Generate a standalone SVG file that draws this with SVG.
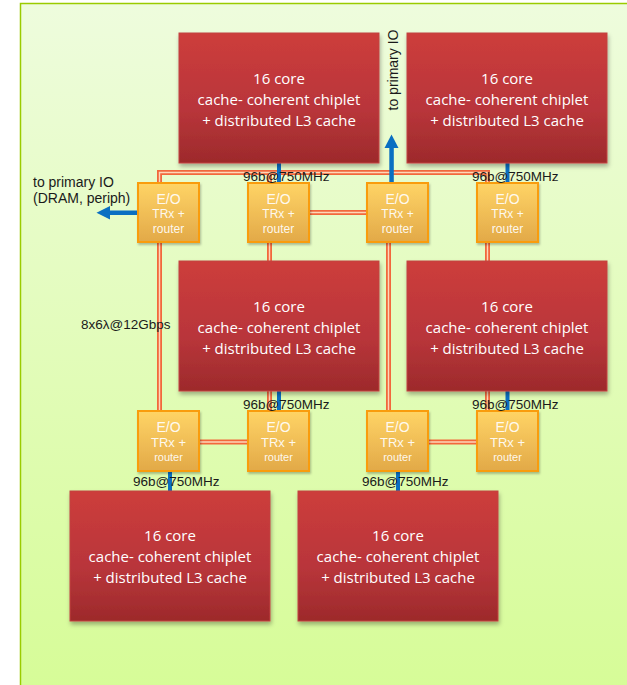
<svg xmlns="http://www.w3.org/2000/svg" width="627" height="685" viewBox="0 0 627 685">
  <defs>
    <linearGradient id="panelFill" x1="0" y1="0" x2="0" y2="1">
      <stop offset="0" stop-color="#eefcdd"/>
      <stop offset="1" stop-color="#d6fc96"/>
    </linearGradient>
    <linearGradient id="chipFill" x1="0" y1="0" x2="0" y2="1">
      <stop offset="0" stop-color="#cd3d3b"/>
      <stop offset="0.6" stop-color="#b8353a"/>
      <stop offset="1" stop-color="#9d2a2b"/>
    </linearGradient>
    <linearGradient id="routerFill" x1="0" y1="0" x2="0" y2="1">
      <stop offset="0" stop-color="#ffd466"/>
      <stop offset="1" stop-color="#e2a948"/>
    </linearGradient>
    <filter id="shadow" x="-10%" y="-10%" width="125%" height="130%">
      <feDropShadow dx="1" dy="3" stdDeviation="2" flood-color="#000" flood-opacity="0.3"/>
    </filter>
    <filter id="smallShadow" x="-10%" y="-10%" width="130%" height="130%">
      <feDropShadow dx="1" dy="2" stdDeviation="1.2" flood-color="#000" flood-opacity="0.25"/>
    </filter>
  </defs>
  <style>
    .chip { fill: url(#chipFill); stroke: #c24341; stroke-width: 1; filter: url(#shadow); }
    .chipText { font-family: "Open Sans", "Liberation Sans", sans-serif; font-size: 15px; fill: #ffffff; text-anchor: middle; }
    .router { fill: url(#routerFill); stroke: #f99c0c; stroke-width: 2; filter: url(#smallShadow); }
    .routerText { font-family: "Liberation Sans", Arial, sans-serif; fill: #ffffff; fill-opacity: 0.92; text-anchor: middle; }
    .label { font-family: "Liberation Sans", Arial, sans-serif; font-size: 13.5px; fill: #1a1a1a; }
    .io { font-size: 14px; }
    .link { fill: none; stroke: #f2683c; stroke-width: 5; }
    .linkCore { fill: none; stroke: #fdd7b8; stroke-width: 1.4; }
    .bus { stroke: #0a6fc2; stroke-width: 4; fill: none; }
  </style>

  <!-- background panel -->
  <rect x="20.5" y="3.5" width="620" height="700" fill="url(#panelFill)" stroke="#9acb00" stroke-width="1.5"/>

  <!-- optical waveguide links between routers -->
  <g id="connectors">
    <g id="optical-links">
      <path class="link" d="M159.5,441 V172.5 H487.5 V441"/>
      <path class="link" d="M269.5,172.5 V441"/>
      <path class="link" d="M278,212.5 H397"/>
      <path class="link" d="M388.5,212 V441"/>
      <path class="link" d="M168,442 H278"/>
      <path class="link" d="M397,442 H507"/>
      <path class="linkCore" d="M159.5,441 V172.5 H487.5 V441"/>
      <path class="linkCore" d="M269.5,172.5 V441"/>
      <path class="linkCore" d="M278,212.5 H397"/>
      <path class="linkCore" d="M388.5,212 V441"/>
      <path class="linkCore" d="M168,442 H278"/>
      <path class="linkCore" d="M397,442 H507"/>
    </g>
    <!-- electrical buses chiplet to router -->
    <g id="electrical-links">
      <line class="bus" x1="279" y1="160" x2="279" y2="185"/>
      <line class="bus" x1="507.5" y1="160" x2="507.5" y2="185"/>
      <line class="bus" x1="279" y1="388" x2="279" y2="413"/>
      <line class="bus" x1="507.5" y1="388" x2="507.5" y2="413"/>
      <line class="bus" x1="170" y1="469" x2="170" y2="493"/>
      <line class="bus" x1="398" y1="469" x2="398" y2="493"/>
    </g>
    <!-- primary IO arrows -->
    <g id="io-arrows" fill="#0a6fc2">
      <rect x="109" y="210.5" width="30" height="4.5"/>
      <polygon points="96.5,212.8 110,206 110,219.6"/>
      <rect x="389.3" y="147" width="4.5" height="37"/>
      <polygon points="391.5,134.5 384.5,148 398.5,148"/>
    </g>
  </g>

  <!-- chiplets -->
  <g id="chiplet-top-left">
    <rect class="chip" x="179" y="33" width="200" height="130"/>
    <text class="chipText" x="279" y="84">16 core</text>
    <text class="chipText" x="279" y="105">cache- coherent chiplet</text>
    <text class="chipText" x="279" y="126">+ distributed L3 cache</text>
  </g>
  <g id="chiplet-top-right">
    <rect class="chip" x="407" y="33" width="200" height="130"/>
    <text class="chipText" x="507" y="84">16 core</text>
    <text class="chipText" x="507" y="105">cache- coherent chiplet</text>
    <text class="chipText" x="507" y="126">+ distributed L3 cache</text>
  </g>
  <g id="chiplet-mid-left">
    <rect class="chip" x="179" y="261" width="200" height="130"/>
    <text class="chipText" x="279" y="312">16 core</text>
    <text class="chipText" x="279" y="333">cache- coherent chiplet</text>
    <text class="chipText" x="279" y="354">+ distributed L3 cache</text>
  </g>
  <g id="chiplet-mid-right">
    <rect class="chip" x="407" y="261" width="200" height="130"/>
    <text class="chipText" x="507" y="312">16 core</text>
    <text class="chipText" x="507" y="333">cache- coherent chiplet</text>
    <text class="chipText" x="507" y="354">+ distributed L3 cache</text>
  </g>
  <g id="chiplet-bottom-left">
    <rect class="chip" x="70" y="491" width="200" height="130"/>
    <text class="chipText" x="170" y="541">16 core</text>
    <text class="chipText" x="170" y="562">cache- coherent chiplet</text>
    <text class="chipText" x="170" y="583">+ distributed L3 cache</text>
  </g>
  <g id="chiplet-bottom-mid">
    <rect class="chip" x="298" y="491" width="200" height="130"/>
    <text class="chipText" x="398" y="541">16 core</text>
    <text class="chipText" x="398" y="562">cache- coherent chiplet</text>
    <text class="chipText" x="398" y="583">+ distributed L3 cache</text>
  </g>

  <!-- routers, upper row -->
  <g id="router-1-1">
    <rect class="router" x="138" y="183" width="61" height="59"/>
    <text class="routerText" x="168.5" y="204" font-size="14">E/O</text>
    <text class="routerText" x="168.5" y="218" font-size="12">TRx +</text>
    <text class="routerText" x="168.5" y="233" font-size="12">router</text>
  </g>
  <g id="router-1-2">
    <rect class="router" x="248" y="183" width="61" height="59"/>
    <text class="routerText" x="278.5" y="204" font-size="14">E/O</text>
    <text class="routerText" x="278.5" y="218" font-size="12">TRx +</text>
    <text class="routerText" x="278.5" y="233" font-size="12">router</text>
  </g>
  <g id="router-1-3">
    <rect class="router" x="367" y="183" width="61" height="59"/>
    <text class="routerText" x="397.5" y="204" font-size="14">E/O</text>
    <text class="routerText" x="397.5" y="218" font-size="12">TRx +</text>
    <text class="routerText" x="397.5" y="233" font-size="12">router</text>
  </g>
  <g id="router-1-4">
    <rect class="router" x="477" y="183" width="61" height="59"/>
    <text class="routerText" x="507.5" y="204" font-size="14">E/O</text>
    <text class="routerText" x="507.5" y="218" font-size="12">TRx +</text>
    <text class="routerText" x="507.5" y="233" font-size="12">router</text>
  </g>

  <!-- routers, lower row -->
  <g id="router-2-1">
    <rect class="router" x="138" y="411" width="61" height="60"/>
    <text class="routerText" x="168.5" y="432" font-size="14">E/O</text>
    <text class="routerText" x="168.5" y="447" font-size="13">TRx +</text>
    <text class="routerText" x="168.5" y="461" font-size="11">router</text>
  </g>
  <g id="router-2-2">
    <rect class="router" x="248" y="411" width="61" height="60"/>
    <text class="routerText" x="278.5" y="432" font-size="14">E/O</text>
    <text class="routerText" x="278.5" y="447" font-size="13">TRx +</text>
    <text class="routerText" x="278.5" y="461" font-size="11">router</text>
  </g>
  <g id="router-2-3">
    <rect class="router" x="367" y="411" width="61" height="60"/>
    <text class="routerText" x="397.5" y="432" font-size="14">E/O</text>
    <text class="routerText" x="397.5" y="447" font-size="13">TRx +</text>
    <text class="routerText" x="397.5" y="461" font-size="11">router</text>
  </g>
  <g id="router-2-4">
    <rect class="router" x="477" y="411" width="61" height="60"/>
    <text class="routerText" x="507.5" y="432" font-size="14">E/O</text>
    <text class="routerText" x="507.5" y="447" font-size="13">TRx +</text>
    <text class="routerText" x="507.5" y="461" font-size="11">router</text>
  </g>

  <!-- link annotations -->
  <g id="labels">
    <text class="label" x="243" y="180.5">96b@750MHz</text>
    <text class="label" x="472" y="180.5">96b@750MHz</text>
    <text class="label" x="243" y="408.5">96b@750MHz</text>
    <text class="label" x="472" y="408.5">96b@750MHz</text>
    <text class="label" x="133" y="485.5">96b@750MHz</text>
    <text class="label" x="362" y="485.5">96b@750MHz</text>
    <text class="label" x="81" y="328.5">8x6λ@12Gbps</text>
    <text class="label io" x="33" y="187">to primary IO</text>
    <text class="label io" x="33" y="203">(DRAM, periph)</text>
    <text class="label io" transform="translate(398,70) rotate(-90)" text-anchor="middle">to primary IO</text>
  </g>
</svg>
